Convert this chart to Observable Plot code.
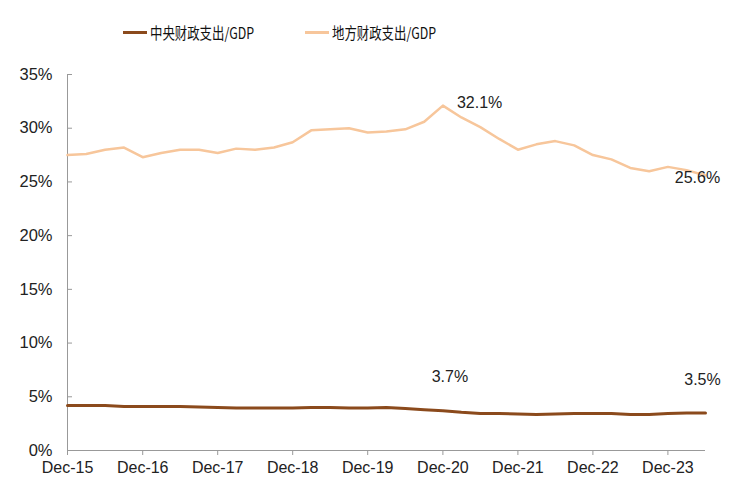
<!DOCTYPE html>
<html>
<head>
<meta charset="utf-8">
<script src="https://cdn.jsdelivr.net/npm/d3@7"></script>
<script src="https://cdn.jsdelivr.net/npm/@observablehq/plot@0.6"></script>
<style>
  html, body { margin: 0; padding: 0; background: #fff; }
  #wrap { width: 740px; height: 490px; position: relative; }
  #legend { height: 60px; position: relative; font-family: "Noto Sans CJK SC", sans-serif; font-size: 15.5px; color: #111; }
  .item { position: absolute; top: 21px; display: flex; align-items: center; white-space: nowrap; }
  .sw { width: 24px; height: 3px; margin-right: 3px; }
  .lt { display: inline-block; transform: scaleX(0.8); transform-origin: left center; }
</style>
</head>
<body>
<div id="wrap">
  <div id="legend"></div>
  <div id="chart"></div>
</div>
<script>
const periods = [
  "2015-12","2016-03","2016-06","2016-09","2016-12","2017-03","2017-06","2017-09",
  "2017-12","2018-03","2018-06","2018-09","2018-12","2019-03","2019-06","2019-09",
  "2019-12","2020-03","2020-06","2020-09","2020-12","2021-03","2021-06","2021-09",
  "2021-12","2022-03","2022-06","2022-09","2022-12","2023-03","2023-06","2023-09",
  "2023-12","2024-03","2024-06"
];
const centralSpend = [
  4.2, 4.2, 4.2, 4.1, 4.1, 4.1, 4.1, 4.05,
  4.0, 3.95, 3.95, 3.95, 3.95, 4.0, 4.0, 3.95,
  3.95, 4.0, 3.9, 3.8, 3.7, 3.55, 3.45, 3.45,
  3.4, 3.35, 3.4, 3.45, 3.45, 3.45, 3.35, 3.35,
  3.45, 3.5, 3.5
];
const localSpend = [
  27.5, 27.6, 28.0, 28.2, 27.3, 27.7, 28.0, 28.0,
  27.7, 28.1, 28.0, 28.2, 28.7, 29.8, 29.9, 30.0,
  29.6, 29.7, 29.9, 30.6, 32.1, 31.0, 30.1, 29.0,
  28.0, 28.5, 28.8, 28.4, 27.5, 27.1, 26.3, 26.0,
  26.4, 26.1, 25.6
];
const seriesNames = ["中央财政支出/GDP", "地方财政支出/GDP"];
const seriesColors = ["#8B4A1C", "#F7C69B"];
const tickYears = ["2015-12","2016-12","2017-12","2018-12","2019-12","2020-12","2021-12","2022-12","2023-12"];
const tickLabels = ["Dec-15","Dec-16","Dec-17","Dec-18","Dec-19","Dec-20","Dec-21","Dec-22","Dec-23"];
const yTicks = [0, 5, 10, 15, 20, 25, 30, 35];
const annotations = [
  {period: "2020-12", series: 1, text: "32.1%"},
  {period: "2024-06", series: 1, text: "25.6%"},
  {period: "2020-12", series: 0, text: "3.7%"},
  {period: "2024-06", series: 0, text: "3.5%"}
];

const parse = s => { const [y, m] = s.split("-").map(Number); return new Date(Date.UTC(y, m - 1, 15)); };
const rows = [];
periods.forEach((p, i) => {
  rows.push({date: parse(p), value: centralSpend[i], series: seriesNames[0]});
  rows.push({date: parse(p), value: localSpend[i], series: seriesNames[1]});
});
const ann = annotations.map(a => {
  const i = periods.indexOf(a.period);
  return {date: parse(a.period), value: (a.series === 0 ? centralSpend : localSpend)[i], text: a.text, series: a.series};
});
const tickDates = tickYears.map(parse);
const labelMap = new Map(tickDates.map((d, i) => [+d, tickLabels[i]]));

// legend
const legend = document.getElementById("legend");
const lefts = [123, 305];
seriesNames.forEach((n, i) => {
  const el = document.createElement("div");
  el.className = "item";
  el.style.left = lefts[i] + "px";
  el.innerHTML = `<span class="sw" style="background:${seriesColors[i]}"></span><span class="lt">${n}</span>`;
  legend.appendChild(el);
});

const font = "Liberation Sans, Arial, sans-serif";
const chart = Plot.plot({
  width: 740,
  height: 430,
  marginTop: 14,
  marginBottom: 40,
  marginLeft: 67,
  marginRight: 35,
  style: {fontFamily: font, fontSize: "16px", color: "#222", background: "#fff"},
  x: {type: "utc", domain: [parse(periods[0]), parse(periods[periods.length - 1])]},
  y: {domain: [0, 35]},
  color: {domain: seriesNames, range: seriesColors},
  marks: [
    Plot.ruleY([0], {stroke: "#999", strokeWidth: 1}),
    Plot.ruleX([parse(periods[0])], {y1: 0, y2: 35, stroke: "#999", strokeWidth: 1}),
    Plot.axisX({ticks: tickDates, tickFormat: d => labelMap.get(+d), tickSize: 5, tickPadding: 6, stroke: "#999", label: null, fontSize: 16}),
    Plot.axisY({ticks: yTicks, tickFormat: d => d + "%", tickSize: -5, tickPadding: 20, stroke: "#999", label: null, fontSize: 16.5}),
    Plot.line(rows.filter(r => r.series === seriesNames[1]), {x: "date", y: "value", stroke: seriesColors[1], strokeWidth: 2.5, curve: "linear"}),
    Plot.line(rows.filter(r => r.series === seriesNames[0]), {x: "date", y: "value", stroke: seriesColors[0], strokeWidth: 3, curve: "linear"}),
    Plot.text(ann.filter(a => a.text === "32.1%"), {x: "date", y: "value", text: "text", textAnchor: "start", dx: 14, dy: -3, fill: "#222", fontSize: 16}),
    Plot.text(ann.filter(a => a.text === "25.6%"), {x: "date", y: "value", text: "text", textAnchor: "middle", dx: -8, dy: 2, fill: "#222", fontSize: 16}),
    Plot.text(ann.filter(a => a.text === "3.7%"), {x: "date", y: "value", text: "text", textAnchor: "middle", dx: 7, dy: -34, fill: "#222", fontSize: 16}),
    Plot.text(ann.filter(a => a.text === "3.5%"), {x: "date", y: "value", text: "text", textAnchor: "middle", dx: -3, dy: -33, fill: "#222", fontSize: 16})
  ]
});
document.getElementById("chart").appendChild(chart);
</script>
</body>
</html>
